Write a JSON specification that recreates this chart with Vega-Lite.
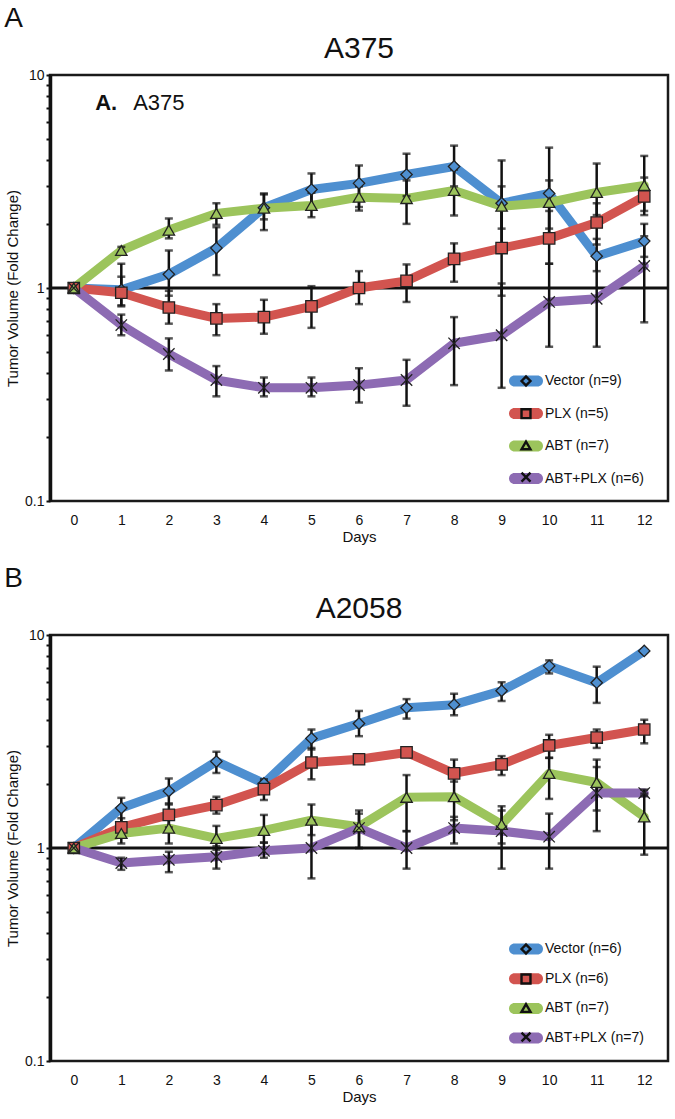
{
  "$schema": "https://vega.github.io/schema/vega-lite/v6.json",
  "background": "white",
  "padding": {"left": 4, "top": 4, "right": 5, "bottom": 5},
  "spacing": 18,
  "resolve": {
    "scale": {"color": "independent", "fill": "independent", "stroke": "independent", "shape": "independent", "x": "independent", "y": "independent"},
    "legend": {"color": "independent", "fill": "independent", "stroke": "independent", "shape": "independent"}
  },
  "datasets": {
    "a375": [
      {"day":0,"series":"Vector","label":"Vector (n=9)","v":1,"lo":null,"hi":null},
      {"day":1,"series":"Vector","label":"Vector (n=9)","v":0.98,"lo":0.82,"hi":1.3},
      {"day":2,"series":"Vector","label":"Vector (n=9)","v":1.16,"lo":0.92,"hi":1.5},
      {"day":3,"series":"Vector","label":"Vector (n=9)","v":1.54,"lo":1.15,"hi":1.93},
      {"day":4,"series":"Vector","label":"Vector (n=9)","v":2.38,"lo":1.87,"hi":2.78},
      {"day":5,"series":"Vector","label":"Vector (n=9)","v":2.9,"lo":2.35,"hi":3.45},
      {"day":6,"series":"Vector","label":"Vector (n=9)","v":3.1,"lo":2.4,"hi":3.76},
      {"day":7,"series":"Vector","label":"Vector (n=9)","v":3.41,"lo":2.7,"hi":4.27},
      {"day":8,"series":"Vector","label":"Vector (n=9)","v":3.72,"lo":3.0,"hi":4.66},
      {"day":9,"series":"Vector","label":"Vector (n=9)","v":2.5,"lo":1.6,"hi":3.97},
      {"day":10,"series":"Vector","label":"Vector (n=9)","v":2.78,"lo":1.7,"hi":4.56},
      {"day":11,"series":"Vector","label":"Vector (n=9)","v":1.41,"lo":1.2,"hi":1.7},
      {"day":12,"series":"Vector","label":"Vector (n=9)","v":1.66,"lo":1.4,"hi":2.0},
      {"day":0,"series":"PLX","label":"PLX (n=5)","v":1,"lo":null,"hi":null},
      {"day":1,"series":"PLX","label":"PLX (n=5)","v":0.95,"lo":0.83,"hi":1.13},
      {"day":2,"series":"PLX","label":"PLX (n=5)","v":0.81,"lo":0.68,"hi":0.97},
      {"day":3,"series":"PLX","label":"PLX (n=5)","v":0.72,"lo":0.6,"hi":0.84},
      {"day":4,"series":"PLX","label":"PLX (n=5)","v":0.73,"lo":0.61,"hi":0.88},
      {"day":5,"series":"PLX","label":"PLX (n=5)","v":0.82,"lo":0.65,"hi":1.02},
      {"day":6,"series":"PLX","label":"PLX (n=5)","v":1.0,"lo":0.84,"hi":1.2},
      {"day":7,"series":"PLX","label":"PLX (n=5)","v":1.08,"lo":0.86,"hi":1.29},
      {"day":8,"series":"PLX","label":"PLX (n=5)","v":1.37,"lo":1.07,"hi":1.62},
      {"day":9,"series":"PLX","label":"PLX (n=5)","v":1.54,"lo":0.92,"hi":2.55},
      {"day":10,"series":"PLX","label":"PLX (n=5)","v":1.71,"lo":1.3,"hi":2.3},
      {"day":11,"series":"PLX","label":"PLX (n=5)","v":2.03,"lo":1.6,"hi":2.5},
      {"day":12,"series":"PLX","label":"PLX (n=5)","v":2.69,"lo":2.2,"hi":3.3},
      {"day":0,"series":"ABT","label":"ABT (n=7)","v":1,"lo":null,"hi":null},
      {"day":1,"series":"ABT","label":"ABT (n=7)","v":1.5,"lo":1.44,"hi":1.56},
      {"day":2,"series":"ABT","label":"ABT (n=7)","v":1.87,"lo":1.71,"hi":2.12},
      {"day":3,"series":"ABT","label":"ABT (n=7)","v":2.24,"lo":1.98,"hi":2.5},
      {"day":4,"series":"ABT","label":"ABT (n=7)","v":2.37,"lo":2.1,"hi":2.75},
      {"day":5,"series":"ABT","label":"ABT (n=7)","v":2.44,"lo":2.15,"hi":2.8},
      {"day":6,"series":"ABT","label":"ABT (n=7)","v":2.67,"lo":2.31,"hi":3.0},
      {"day":7,"series":"ABT","label":"ABT (n=7)","v":2.63,"lo":2.0,"hi":3.2},
      {"day":8,"series":"ABT","label":"ABT (n=7)","v":2.87,"lo":2.19,"hi":3.6},
      {"day":9,"series":"ABT","label":"ABT (n=7)","v":2.42,"lo":1.9,"hi":3.0},
      {"day":10,"series":"ABT","label":"ABT (n=7)","v":2.52,"lo":1.9,"hi":3.2},
      {"day":11,"series":"ABT","label":"ABT (n=7)","v":2.81,"lo":2.2,"hi":3.84},
      {"day":12,"series":"ABT","label":"ABT (n=7)","v":3.03,"lo":2.3,"hi":4.17},
      {"day":0,"series":"ABT+PLX","label":"ABT+PLX (n=6)","v":1,"lo":null,"hi":null},
      {"day":1,"series":"ABT+PLX","label":"ABT+PLX (n=6)","v":0.67,"lo":0.6,"hi":0.75},
      {"day":2,"series":"ABT+PLX","label":"ABT+PLX (n=6)","v":0.49,"lo":0.41,"hi":0.58},
      {"day":3,"series":"ABT+PLX","label":"ABT+PLX (n=6)","v":0.37,"lo":0.31,"hi":0.43},
      {"day":4,"series":"ABT+PLX","label":"ABT+PLX (n=6)","v":0.34,"lo":0.31,"hi":0.38},
      {"day":5,"series":"ABT+PLX","label":"ABT+PLX (n=6)","v":0.34,"lo":0.31,"hi":0.38},
      {"day":6,"series":"ABT+PLX","label":"ABT+PLX (n=6)","v":0.35,"lo":0.29,"hi":0.42},
      {"day":7,"series":"ABT+PLX","label":"ABT+PLX (n=6)","v":0.37,"lo":0.28,"hi":0.46},
      {"day":8,"series":"ABT+PLX","label":"ABT+PLX (n=6)","v":0.55,"lo":0.35,"hi":0.73},
      {"day":9,"series":"ABT+PLX","label":"ABT+PLX (n=6)","v":0.6,"lo":0.34,"hi":1.05},
      {"day":10,"series":"ABT+PLX","label":"ABT+PLX (n=6)","v":0.86,"lo":0.53,"hi":1.3},
      {"day":11,"series":"ABT+PLX","label":"ABT+PLX (n=6)","v":0.89,"lo":0.53,"hi":1.4},
      {"day":12,"series":"ABT+PLX","label":"ABT+PLX (n=6)","v":1.27,"lo":0.69,"hi":1.75}
    ],
    "a2058": [
      {"day":0,"series":"Vector","label":"Vector (n=6)","v":1,"lo":null,"hi":null},
      {"day":1,"series":"Vector","label":"Vector (n=6)","v":1.54,"lo":1.32,"hi":1.72},
      {"day":2,"series":"Vector","label":"Vector (n=6)","v":1.85,"lo":1.6,"hi":2.12},
      {"day":3,"series":"Vector","label":"Vector (n=6)","v":2.55,"lo":2.25,"hi":2.83},
      {"day":4,"series":"Vector","label":"Vector (n=6)","v":2.01,"lo":1.92,"hi":2.1},
      {"day":5,"series":"Vector","label":"Vector (n=6)","v":3.27,"lo":2.9,"hi":3.6},
      {"day":6,"series":"Vector","label":"Vector (n=6)","v":3.84,"lo":3.35,"hi":4.4},
      {"day":7,"series":"Vector","label":"Vector (n=6)","v":4.56,"lo":4.05,"hi":5.0},
      {"day":8,"series":"Vector","label":"Vector (n=6)","v":4.71,"lo":4.2,"hi":5.3},
      {"day":9,"series":"Vector","label":"Vector (n=6)","v":5.47,"lo":4.9,"hi":6.0},
      {"day":10,"series":"Vector","label":"Vector (n=6)","v":7.16,"lo":6.6,"hi":7.6},
      {"day":11,"series":"Vector","label":"Vector (n=6)","v":5.97,"lo":4.8,"hi":7.1},
      {"day":12,"series":"Vector","label":"Vector (n=6)","v":8.42,"lo":8.3,"hi":8.5},
      {"day":0,"series":"PLX","label":"PLX (n=6)","v":1,"lo":null,"hi":null},
      {"day":1,"series":"PLX","label":"PLX (n=6)","v":1.25,"lo":1.12,"hi":1.38},
      {"day":2,"series":"PLX","label":"PLX (n=6)","v":1.43,"lo":1.25,"hi":1.62},
      {"day":3,"series":"PLX","label":"PLX (n=6)","v":1.59,"lo":1.45,"hi":1.74},
      {"day":4,"series":"PLX","label":"PLX (n=6)","v":1.89,"lo":1.68,"hi":2.05},
      {"day":5,"series":"PLX","label":"PLX (n=6)","v":2.52,"lo":2.1,"hi":2.95},
      {"day":6,"series":"PLX","label":"PLX (n=6)","v":2.61,"lo":2.5,"hi":2.72},
      {"day":7,"series":"PLX","label":"PLX (n=6)","v":2.81,"lo":2.7,"hi":2.92},
      {"day":8,"series":"PLX","label":"PLX (n=6)","v":2.24,"lo":2.05,"hi":2.6},
      {"day":9,"series":"PLX","label":"PLX (n=6)","v":2.47,"lo":2.2,"hi":2.7},
      {"day":10,"series":"PLX","label":"PLX (n=6)","v":3.03,"lo":2.65,"hi":3.4},
      {"day":11,"series":"PLX","label":"PLX (n=6)","v":3.3,"lo":2.95,"hi":3.6},
      {"day":12,"series":"PLX","label":"PLX (n=6)","v":3.6,"lo":3.1,"hi":4.0},
      {"day":0,"series":"ABT","label":"ABT (n=7)","v":1,"lo":null,"hi":null},
      {"day":1,"series":"ABT","label":"ABT (n=7)","v":1.17,"lo":1.05,"hi":1.3},
      {"day":2,"series":"ABT","label":"ABT (n=7)","v":1.24,"lo":1.05,"hi":1.45},
      {"day":3,"series":"ABT","label":"ABT (n=7)","v":1.11,"lo":0.98,"hi":1.27},
      {"day":4,"series":"ABT","label":"ABT (n=7)","v":1.21,"lo":1.06,"hi":1.43},
      {"day":5,"series":"ABT","label":"ABT (n=7)","v":1.35,"lo":1.15,"hi":1.6},
      {"day":6,"series":"ABT","label":"ABT (n=7)","v":1.26,"lo":1.0,"hi":1.5},
      {"day":7,"series":"ABT","label":"ABT (n=7)","v":1.73,"lo":1.2,"hi":2.2},
      {"day":8,"series":"ABT","label":"ABT (n=7)","v":1.74,"lo":1.35,"hi":2.35},
      {"day":9,"series":"ABT","label":"ABT (n=7)","v":1.29,"lo":1.05,"hi":1.57},
      {"day":10,"series":"ABT","label":"ABT (n=7)","v":2.24,"lo":1.7,"hi":2.65},
      {"day":11,"series":"ABT","label":"ABT (n=7)","v":2.03,"lo":1.5,"hi":2.6},
      {"day":12,"series":"ABT","label":"ABT (n=7)","v":1.4,"lo":0.93,"hi":1.8},
      {"day":0,"series":"ABT+PLX","label":"ABT+PLX (n=7)","v":1,"lo":null,"hi":null},
      {"day":1,"series":"ABT+PLX","label":"ABT+PLX (n=7)","v":0.85,"lo":0.79,"hi":0.9},
      {"day":2,"series":"ABT+PLX","label":"ABT+PLX (n=7)","v":0.88,"lo":0.77,"hi":0.96},
      {"day":3,"series":"ABT+PLX","label":"ABT+PLX (n=7)","v":0.91,"lo":0.8,"hi":1.02},
      {"day":4,"series":"ABT+PLX","label":"ABT+PLX (n=7)","v":0.97,"lo":0.9,"hi":1.06},
      {"day":5,"series":"ABT+PLX","label":"ABT+PLX (n=7)","v":1.0,"lo":0.72,"hi":1.35},
      {"day":6,"series":"ABT+PLX","label":"ABT+PLX (n=7)","v":1.24,"lo":1.0,"hi":1.45},
      {"day":7,"series":"ABT+PLX","label":"ABT+PLX (n=7)","v":1.0,"lo":0.8,"hi":1.2},
      {"day":8,"series":"ABT+PLX","label":"ABT+PLX (n=7)","v":1.24,"lo":1.05,"hi":1.4},
      {"day":9,"series":"ABT+PLX","label":"ABT+PLX (n=7)","v":1.2,"lo":0.8,"hi":1.5},
      {"day":10,"series":"ABT+PLX","label":"ABT+PLX (n=7)","v":1.13,"lo":0.8,"hi":1.45},
      {"day":11,"series":"ABT+PLX","label":"ABT+PLX (n=7)","v":1.81,"lo":1.2,"hi":2.4},
      {"day":12,"series":"ABT+PLX","label":"ABT+PLX (n=7)","v":1.81,"lo":1.75,"hi":1.88}
    ]
  },
  "vconcat": [
    {
      "title": {"text": "A", "anchor": "start", "fontSize": 28, "offset": 0},
      "vconcat": [
        {
          "title": {"text": "A375", "fontSize": 30, "anchor": "middle", "frame": "group", "offset": 4},
          "width": 618,
          "height": 426,
          "data": {"name": "a375"},
          "layer": [
            {
              "data": {"values": [{}]},
              "mark": {"type": "rule", "strokeWidth": 3, "color": "#111"},
              "encoding": {"y": {"datum": 1, "type": "quantitative", "scale": {"type": "log", "domain": [0.1, 10], "nice": false}}}
            },
            {
              "mark": {"type": "point", "filled": true, "opacity": 0, "size": 10},
              "encoding": {
                "x": {"field": "day", "type": "quantitative"},
                "y": {"field": "v", "type": "quantitative"},
                "color": {"field": "label", "type": "nominal", "scale": {"domain": ["Vector (n=9)", "PLX (n=5)", "ABT (n=7)", "ABT+PLX (n=6)"], "range": ["#4E8FD0", "#D2544F", "#9CC45C", "#8D6BB3"]},
                          "legend": {"title": null, "orient": "none", "legendX": 469, "legendY": 299, "symbolType": "M-2.57,-1.23L2.57,-1.23A1.23,1.23 0 0 1 2.57,1.23L-2.57,1.23A1.23,1.23 0 0 1 -2.57,-1.23Z", "symbolSize": 80, "symbolStrokeWidth": 0, "symbolOpacity": 1, "labelOffset": 12, "rowPadding": 18.5, "labelFontSize": 14, "encode": {"symbols": {"update": {"opacity": {"value": 1}, "strokeWidth": {"value": 0}}}}}}
              }
            },
            {
              "mark": {"type": "line", "strokeWidth": 9, "strokeCap": "round", "strokeJoin": "round"},
              "encoding": {
                "x": {"field": "day", "type": "quantitative", "scale": {"domain": [-0.5, 12.5], "nice": false, "zero": false},
                      "axis": {"values": [0,1,2,3,4,5,6,7,8,9,10,11,12], "title": "Days", "ticks": false, "domain": false, "grid": false, "labelPadding": 12, "titlePadding": 2, "labelFontSize": 14, "titleFontSize": 15, "labelFlush": false}},
                "y": {"field": "v", "type": "quantitative", "scale": {"type": "log", "domain": [0.1, 10], "nice": false},
                      "axis": {"values": [0.1,0.2,0.3,0.4,0.5,0.6,0.7,0.8,0.9,1,2,3,4,5,6,7,8,9,10], "labelExpr": "abs(datum.value-0.1)<1e-9 ? '0.1' : abs(datum.value-1)<1e-9 ? '1' : abs(datum.value-10)<1e-9 ? '10' : ''", "title": "Tumor Volume (Fold Change)", "tickSize": 4, "tickWidth": 2, "domainWidth": 3.5, "labelPadding": 2, "titlePadding": 4, "labelFontSize": 14, "titleFontSize": 15, "labelFlush": false, "grid": false}},
                "stroke": {"field": "label", "type": "nominal", "scale": {"domain": ["Vector (n=9)", "PLX (n=5)", "ABT (n=7)", "ABT+PLX (n=6)"], "range": ["#4E8FD0", "#D2544F", "#9CC45C", "#8D6BB3"]}, "legend": null}
              }
            },
            {
              "mark": {"type": "rule", "strokeWidth": 2.5, "color": "#111"},
              "encoding": {
                "x": {"field": "day", "type": "quantitative"},
                "y": {"field": "lo", "type": "quantitative"},
                "y2": {"field": "hi"}
              }
            },
            {
              "mark": {"type": "tick", "orient": "horizontal", "size": 8, "thickness": 2.5, "color": "#111"},
              "encoding": {"x": {"field": "day", "type": "quantitative"}, "y": {"field": "lo", "type": "quantitative"}}
            },
            {
              "mark": {"type": "tick", "orient": "horizontal", "size": 8, "thickness": 2.5, "color": "#111"},
              "encoding": {"x": {"field": "day", "type": "quantitative"}, "y": {"field": "hi", "type": "quantitative"}}
            },
            {
              "mark": {"type": "point", "filled": true, "size": 130, "stroke": "#222", "strokeWidth": 1.3, "opacity": 1},
              "encoding": {
                "x": {"field": "day", "type": "quantitative"},
                "y": {"field": "v", "type": "quantitative"},
                "fill": {"field": "label", "type": "nominal", "scale": {"domain": ["Vector (n=9)", "PLX (n=5)", "ABT (n=7)", "ABT+PLX (n=6)"], "range": ["#4E8FD0", "#D2544F", "#9CC45C", "#8D6BB3"]}, "legend": null},
                "shape": {"field": "series", "type": "nominal", "scale": {"domain": ["Vector", "PLX", "ABT", "ABT+PLX"], "range": ["diamond", "square", "triangle-up", "M-1,-1L1,1M1,-1L-1,1"]},
                          "legend": {"title": null, "orient": "none", "legendX": 469, "legendY": 299, "labelExpr": "' '", "symbolSize": 80, "symbolFillColor": "transparent", "symbolStrokeColor": "#111", "symbolStrokeWidth": 2.4, "rowPadding": 12.7, "labelFontSize": 14, "encode": {"symbols": {"update": {"fill": {"value": "transparent"}, "stroke": {"value": "#111"}, "strokeWidth": {"value": 2.4}}}}}}
              }
            },
            {
              "data": {"values": [{}]},
              "mark": {"type": "text", "text": "A.", "fontWeight": "bold", "fontSize": 22, "align": "left", "baseline": "middle", "color": "#111"},
              "encoding": {"x": {"datum": 0.45, "type": "quantitative"}, "y": {"datum": 7.4, "type": "quantitative"}}
            },
            {
              "data": {"values": [{}]},
              "mark": {"type": "text", "text": "A375", "fontSize": 22, "align": "left", "baseline": "middle", "color": "#111"},
              "encoding": {"x": {"datum": 1.25, "type": "quantitative"}, "y": {"datum": 7.4, "type": "quantitative"}}
            }
          ]
        }
      ]
    },
    {
      "title": {"text": "B", "anchor": "start", "fontSize": 28, "offset": 0},
      "vconcat": [
        {
          "title": {"text": "A2058", "fontSize": 30, "anchor": "middle", "frame": "group", "offset": 4},
          "width": 618,
          "height": 426,
          "data": {"name": "a2058"},
          "layer": [
            {
              "data": {"values": [{}]},
              "mark": {"type": "rule", "strokeWidth": 3, "color": "#111"},
              "encoding": {"y": {"datum": 1, "type": "quantitative", "scale": {"type": "log", "domain": [0.1, 10], "nice": false}}}
            },
            {
              "mark": {"type": "point", "filled": true, "opacity": 0, "size": 10},
              "encoding": {
                "x": {"field": "day", "type": "quantitative"},
                "y": {"field": "v", "type": "quantitative"},
                "color": {"field": "label", "type": "nominal", "scale": {"domain": ["Vector (n=6)", "PLX (n=6)", "ABT (n=7)", "ABT+PLX (n=7)"], "range": ["#4E8FD0", "#D2544F", "#9CC45C", "#8D6BB3"]},
                          "legend": {"title": null, "orient": "none", "legendX": 469, "legendY": 307, "symbolType": "M-2.57,-1.23L2.57,-1.23A1.23,1.23 0 0 1 2.57,1.23L-2.57,1.23A1.23,1.23 0 0 1 -2.57,-1.23Z", "symbolSize": 80, "symbolStrokeWidth": 0, "symbolOpacity": 1, "labelOffset": 12, "rowPadding": 15.7, "labelFontSize": 14, "encode": {"symbols": {"update": {"opacity": {"value": 1}, "strokeWidth": {"value": 0}}}}}}
              }
            },
            {
              "mark": {"type": "line", "strokeWidth": 9, "strokeCap": "round", "strokeJoin": "round"},
              "encoding": {
                "x": {"field": "day", "type": "quantitative", "scale": {"domain": [-0.5, 12.5], "nice": false, "zero": false},
                      "axis": {"values": [0,1,2,3,4,5,6,7,8,9,10,11,12], "title": "Days", "ticks": false, "domain": false, "grid": false, "labelPadding": 12, "titlePadding": 2, "labelFontSize": 14, "titleFontSize": 15, "labelFlush": false}},
                "y": {"field": "v", "type": "quantitative", "scale": {"type": "log", "domain": [0.1, 10], "nice": false},
                      "axis": {"values": [0.1,0.2,0.3,0.4,0.5,0.6,0.7,0.8,0.9,1,2,3,4,5,6,7,8,9,10], "labelExpr": "abs(datum.value-0.1)<1e-9 ? '0.1' : abs(datum.value-1)<1e-9 ? '1' : abs(datum.value-10)<1e-9 ? '10' : ''", "title": "Tumor Volume (Fold Change)", "tickSize": 4, "tickWidth": 2, "domainWidth": 3.5, "labelPadding": 2, "titlePadding": 4, "labelFontSize": 14, "titleFontSize": 15, "labelFlush": false, "grid": false}},
                "stroke": {"field": "label", "type": "nominal", "scale": {"domain": ["Vector (n=6)", "PLX (n=6)", "ABT (n=7)", "ABT+PLX (n=7)"], "range": ["#4E8FD0", "#D2544F", "#9CC45C", "#8D6BB3"]}, "legend": null}
              }
            },
            {
              "mark": {"type": "rule", "strokeWidth": 2.5, "color": "#111"},
              "encoding": {
                "x": {"field": "day", "type": "quantitative"},
                "y": {"field": "lo", "type": "quantitative"},
                "y2": {"field": "hi"}
              }
            },
            {
              "mark": {"type": "tick", "orient": "horizontal", "size": 8, "thickness": 2.5, "color": "#111"},
              "encoding": {"x": {"field": "day", "type": "quantitative"}, "y": {"field": "lo", "type": "quantitative"}}
            },
            {
              "mark": {"type": "tick", "orient": "horizontal", "size": 8, "thickness": 2.5, "color": "#111"},
              "encoding": {"x": {"field": "day", "type": "quantitative"}, "y": {"field": "hi", "type": "quantitative"}}
            },
            {
              "mark": {"type": "point", "filled": true, "size": 130, "stroke": "#222", "strokeWidth": 1.3, "opacity": 1},
              "encoding": {
                "x": {"field": "day", "type": "quantitative"},
                "y": {"field": "v", "type": "quantitative"},
                "fill": {"field": "label", "type": "nominal", "scale": {"domain": ["Vector (n=6)", "PLX (n=6)", "ABT (n=7)", "ABT+PLX (n=7)"], "range": ["#4E8FD0", "#D2544F", "#9CC45C", "#8D6BB3"]}, "legend": null},
                "shape": {"field": "series", "type": "nominal", "scale": {"domain": ["Vector", "PLX", "ABT", "ABT+PLX"], "range": ["diamond", "square", "triangle-up", "M-1,-1L1,1M1,-1L-1,1"]},
                          "legend": {"title": null, "orient": "none", "legendX": 469, "legendY": 307, "labelExpr": "' '", "symbolSize": 80, "symbolFillColor": "transparent", "symbolStrokeColor": "#111", "symbolStrokeWidth": 2.4, "rowPadding": 10, "labelFontSize": 14, "encode": {"symbols": {"update": {"fill": {"value": "transparent"}, "stroke": {"value": "#111"}, "strokeWidth": {"value": 2.4}}}}}}
              }
            }
          ]
        }
      ]
    }
  ],
  "config": {
    "font": "Liberation Sans",
    "view": {"stroke": "#1a1a1a", "strokeWidth": 2.5},
    "axis": {"grid": false, "labelColor": "#111", "titleColor": "#111", "domainColor": "#111", "tickColor": "#111", "titleFontWeight": "normal", "labelFont": "Liberation Sans", "titleFont": "Liberation Sans"},
    "legend": {"labelFont": "Liberation Sans", "labelColor": "#111"},
    "title": {"font": "Liberation Sans", "color": "#111", "fontWeight": "normal"}
  }
}
